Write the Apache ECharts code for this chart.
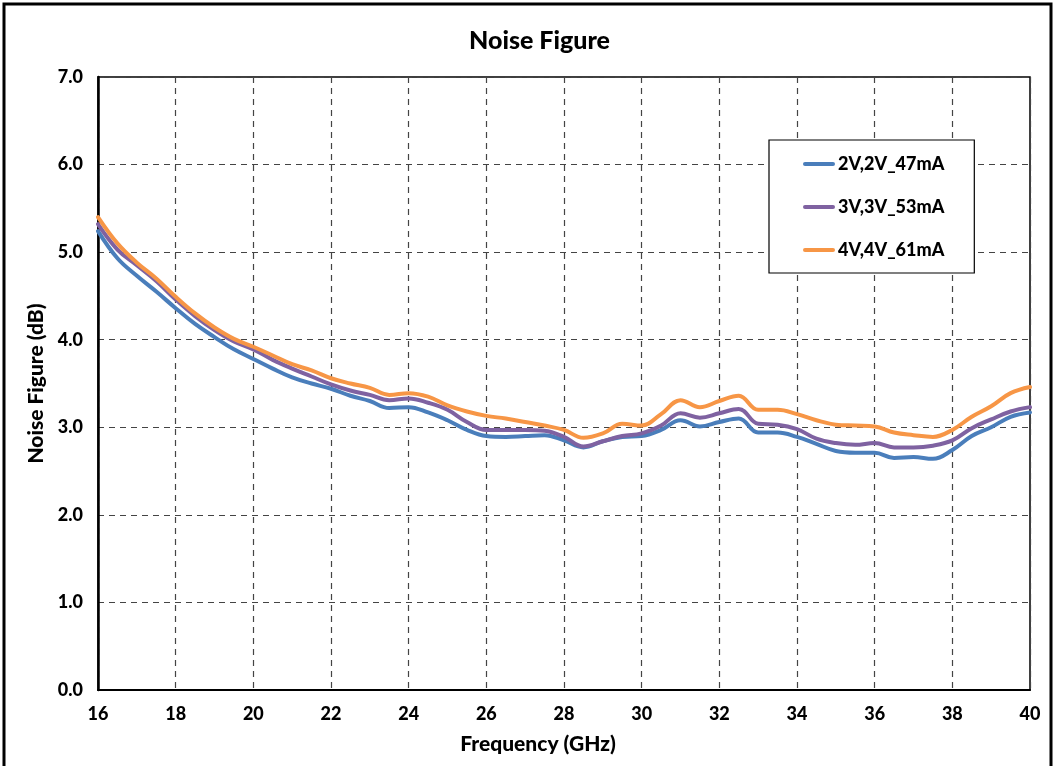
<!DOCTYPE html>
<html>
<head>
<meta charset="utf-8">
<script src="https://cdn.jsdelivr.net/npm/echarts@6/dist/echarts.min.js"></script>
<style>
html,body{margin:0;padding:0;background:#fff;}
#chart{width:1054px;height:766px;}
</style>
</head>
<body>
<div id="chart"></div>
<script>
var freqs = [16,16.5,17,17.5,18,18.5,19,19.5,20,20.5,21,21.5,22,22.5,23,23.5,24,24.5,25,25.5,26,26.5,27,27.5,28,28.5,29,29.5,30,30.5,31,31.5,32,32.5,33,33.5,34,34.5,35,35.5,36,36.5,37,37.5,38,38.5,39,39.5,40];
var nf2V = [5.24,4.93,4.73,4.55,4.36,4.18,4.03,3.89,3.78,3.67,3.57,3.50,3.44,3.36,3.30,3.22,3.23,3.17,3.08,2.97,2.90,2.89,2.90,2.91,2.85,2.77,2.84,2.89,2.90,2.97,3.08,3.01,3.06,3.10,2.94,2.94,2.89,2.81,2.73,2.71,2.71,2.65,2.66,2.64,2.74,2.90,3.00,3.12,3.17];
var nf3V = [5.32,5.03,4.85,4.67,4.46,4.27,4.11,3.98,3.89,3.77,3.67,3.58,3.49,3.42,3.37,3.31,3.33,3.28,3.20,3.06,2.97,2.97,2.97,2.96,2.89,2.78,2.84,2.90,2.93,3.02,3.16,3.11,3.16,3.21,3.04,3.03,2.98,2.87,2.82,2.80,2.82,2.77,2.77,2.79,2.85,2.99,3.09,3.18,3.23];
var nf4V = [5.40,5.10,4.88,4.70,4.49,4.30,4.14,4.01,3.92,3.82,3.72,3.65,3.56,3.50,3.45,3.37,3.39,3.35,3.25,3.18,3.13,3.10,3.06,3.02,2.97,2.88,2.93,3.04,3.02,3.15,3.31,3.23,3.30,3.36,3.20,3.20,3.15,3.08,3.03,3.02,3.01,2.94,2.91,2.89,2.97,3.12,3.24,3.39,3.46];
var seriesNames = ['2V,2V_47mA','3V,3V_53mA','4V,4V_61mA'];
var colors = ['#4a7ebb','#7f62a1','#f79646'];

function pairs(vals){ return freqs.map(function(f,i){ return [f, vals[i]]; }); }
var FONT = 'Lato, "Open Sans", sans-serif';
var W = 900;
var chart = echarts.init(document.getElementById('chart'), null, {renderer:'canvas'});
var dataSets = [nf2V, nf3V, nf4V];
chart.setOption({
  animation:false,
  backgroundColor:'#fff',
  title:{text:'Noise Figure', left:464, top:23,
    textStyle:{fontFamily:FONT, fontWeight:W, fontSize:25, color:'#000'}},
  graphic:[{type:'rect', shape:{x:4, y:4, width:1047, height:800}, silent:true, z:-1,
    style:{fill:'none', stroke:'#000', lineWidth:3}}],
  grid:{left:98, right:24, top:77, bottom:76, show:true, borderColor:'#000', borderWidth:1.5, backgroundColor:'transparent'},
  legend:{
    orient:'vertical', left:769, top:140,
    backgroundColor:'#fff', borderColor:'#000', borderWidth:1.2,
    padding:[15,30,14,34], itemGap:25, itemWidth:32, itemHeight:14,
    icon:'path://M2,6 L30,6 A2,2 0 0 1 30,10 L2,10 A2,2 0 0 1 2,6 Z',
    data:seriesNames,
    textStyle:{fontFamily:FONT, fontWeight:W, fontSize:18, color:'#000', padding:[0,0,0,-2]}
  },
  xAxis:{type:'value', min:16, max:40, interval:2,
    name:'Frequency (GHz)', nameLocation:'middle', nameGap:44,
    nameTextStyle:{fontFamily:FONT, fontWeight:W, fontSize:21, color:'#000', padding:[0,52,0,0]},
    axisLine:{show:true, onZero:false, lineStyle:{color:'#000', width:2}},
    axisTick:{show:false},
    axisLabel:{fontFamily:FONT, fontWeight:W, fontSize:18, color:'#000', margin:15},
    splitLine:{show:true, lineStyle:{color:'#444', type:[6,5], width:1.2}}
  },
  yAxis:{type:'value', min:0, max:7, interval:1,
    name:'Noise Figure (dB)', nameLocation:'middle', nameGap:48, nameRotate:90,
    nameTextStyle:{fontFamily:FONT, fontWeight:W, fontSize:21, color:'#000'},
    axisLine:{show:true, lineStyle:{color:'#000', width:2.5}},
    axisTick:{show:false},
    axisLabel:{fontFamily:FONT, fontWeight:W, fontSize:18, color:'#000', margin:15,
      formatter:function(v){return v.toFixed(1);}},
    splitLine:{show:true, lineStyle:{color:'#444', type:[6,5], width:1.2}}
  },
  series: seriesNames.map(function(n,i){
    return {name:n, type:'line', data:pairs(dataSets[i]), smooth:0.4, showSymbol:false, symbol:'none',
      color:colors[i], lineStyle:{width:4, color:colors[i], cap:'round', join:'round'}, z:2+i};
  })
});
</script>
</body>
</html>
